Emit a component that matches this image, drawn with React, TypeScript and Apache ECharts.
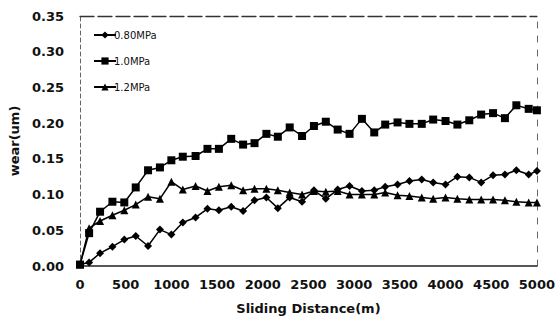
import React, { useEffect, useRef } from "react";
import * as echarts from "echarts";

const distances = [0, 100, 220, 355, 485, 610, 745, 875, 1000, 1125, 1265, 1395, 1520, 1655, 1785, 1910, 2040, 2165, 2295, 2430, 2560, 2690, 2820, 2950, 3085, 3220, 3340, 3475, 3605, 3740, 3865, 4000, 4130, 4260, 4390, 4520, 4650, 4775, 4910, 5000];

const wear080 = [0.002, 0.005, 0.018, 0.027, 0.037, 0.042, 0.028, 0.051, 0.044, 0.061, 0.068, 0.080, 0.078, 0.083, 0.077, 0.092, 0.096, 0.081, 0.096, 0.090, 0.106, 0.094, 0.107, 0.112, 0.105, 0.106, 0.111, 0.114, 0.119, 0.121, 0.117, 0.114, 0.125, 0.124, 0.117, 0.127, 0.128, 0.134, 0.128, 0.133];

const wear100 = [0.002, 0.046, 0.076, 0.090, 0.089, 0.110, 0.134, 0.138, 0.148, 0.153, 0.154, 0.164, 0.164, 0.178, 0.170, 0.172, 0.185, 0.181, 0.194, 0.182, 0.196, 0.202, 0.191, 0.185, 0.206, 0.187, 0.198, 0.201, 0.199, 0.199, 0.205, 0.203, 0.198, 0.204, 0.212, 0.214, 0.207, 0.225, 0.220, 0.218];

const wear120 = [0.002, 0.053, 0.063, 0.071, 0.078, 0.086, 0.097, 0.094, 0.118, 0.107, 0.112, 0.105, 0.111, 0.113, 0.106, 0.108, 0.108, 0.106, 0.103, 0.100, 0.105, 0.104, 0.105, 0.100, 0.100, 0.100, 0.103, 0.099, 0.098, 0.096, 0.094, 0.096, 0.094, 0.093, 0.093, 0.093, 0.092, 0.090, 0.089, 0.089];

const seriesNames = ["0.80MPa", "1.0MPa", "1.2MPa"];
const seriesSymbols = ["diamond", "rect", "triangle"];
const seriesSizes = [8, 8, 8];
const seriesValues = [wear080, wear100, wear120];

const xTitle = "Sliding Distance(m)";
const yTitle = "wear(um)";

const FONT = "'DejaVu Sans', Arial, sans-serif";

export default function App() {
  const ref = useRef<HTMLDivElement>(null);
  useEffect(() => {
    if (!ref.current) return;
    const chart = echarts.init(ref.current, null, { renderer: "svg" });
    chart.setOption({
      animation: false,
      backgroundColor: "#ffffff",
      grid: { left: 76, right: 11, top: 16, bottom: 53 },
      legend: {
        orient: "vertical",
        left: 88,
        top: 25,
        itemGap: 16,
        itemWidth: 22,
        itemHeight: 9,
        data: seriesNames,
        textStyle: { fontFamily: FONT, fontSize: 10, color: "#111", padding: [0, 0, 0, -7] },
      },
      xAxis: [
        {
          type: "value",
          min: 0,
          max: 5000,
          interval: 500,
          splitLine: { show: false },
          axisTick: { show: false },
          axisLine: { show: true, onZero: false, lineStyle: { color: "#222", width: 1.5 } },
          axisLabel: {
            fontFamily: FONT,
            fontSize: 13,
            fontWeight: "bold",
            color: "#111",
            margin: 12,
            formatter: (v: number) => String(v),
          },
          name: xTitle,
          nameLocation: "middle",
          nameGap: 36,
          nameTextStyle: { fontFamily: FONT, fontSize: 13, fontWeight: "bold", color: "#111" },
        },
        {
          type: "value",
          position: "top",
          min: 0,
          max: 5000,
          splitLine: { show: false },
          axisTick: { show: false },
          axisLabel: { show: false },
          axisLine: { show: true, onZero: false, lineStyle: { color: "#333", width: 1.3, type: [14, 4] } },
        },
      ],
      yAxis: [
        {
          type: "value",
          min: 0,
          max: 0.35,
          interval: 0.05,
          splitLine: { show: false },
          axisTick: { show: false },
          axisLine: { show: true, onZero: false, lineStyle: { color: "#666", width: 1, type: [4, 3] } },
          axisLabel: {
            fontFamily: FONT,
            fontSize: 13,
            fontWeight: "bold",
            color: "#111",
            margin: 16,
            formatter: (v: number) => v.toFixed(2),
          },
          name: yTitle,
          nameLocation: "middle",
          nameGap: 58,
          nameTextStyle: { fontFamily: FONT, fontSize: 13, fontWeight: "bold", color: "#111" },
        },
        {
          type: "value",
          position: "right",
          min: 0,
          max: 0.35,
          splitLine: { show: false },
          axisTick: { show: false },
          axisLabel: { show: false },
          axisLine: { show: true, onZero: false, lineStyle: { color: "#666", width: 1, type: [6, 8] } },
        },
      ],
      series: seriesNames.map((name, i) => ({
        name,
        type: "line",
        xAxisIndex: 0,
        yAxisIndex: 0,
        data: distances.map((d, j) => [d, seriesValues[i][j]]),
        symbol: seriesSymbols[i],
        symbolSize: seriesSizes[i],
        showAllSymbol: true,
        lineStyle: { color: "#000", width: 1.5 },
        itemStyle: { color: "#000" },
      })),
    });
    return () => chart.dispose();
  }, []);
  return (
    <div
      ref={ref}
      style={{ position: "fixed", left: 0, top: 0, width: 558, height: 320, background: "#fff" }}
    />
  );
}
